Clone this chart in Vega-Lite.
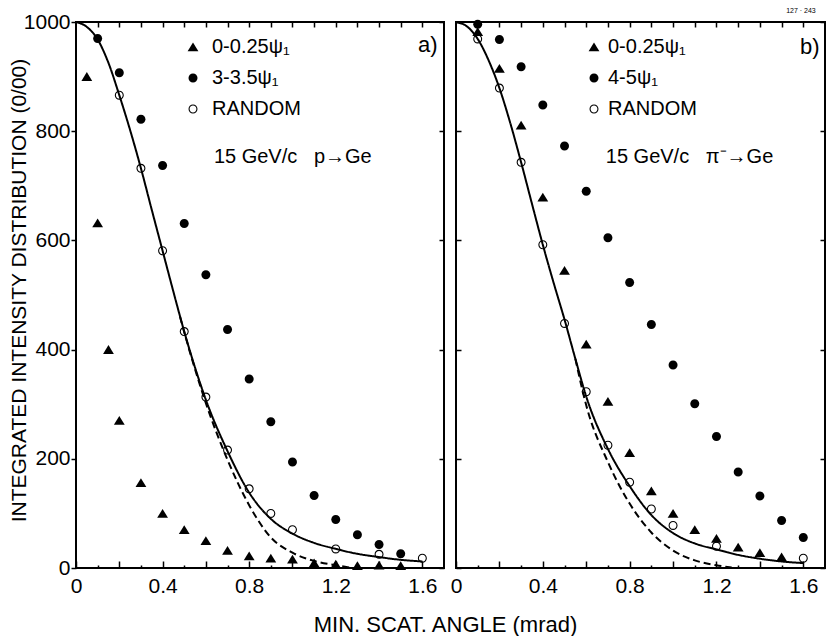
{
  "$schema": "https://vega.github.io/schema/vega-lite/v6.json",
  "background": "white",
  "padding": {"left": 7, "top": 6, "right": 0, "bottom": 0},
  "config": {
    "view": {"stroke": "black", "strokeWidth": 2},
    "axis": {"domain": false, "grid": false, "labelFont": "Liberation Sans, Arial, sans-serif", "labelFontSize": 21, "labelColor": "black", "tickColor": "black", "tickWidth": 1.5, "titleFont": "Liberation Sans, Arial, sans-serif", "titleFontSize": 22, "titleFontWeight": "normal", "titleColor": "black", "labelOverlap": false, "labelFlush": false},
    "legend": {"labelFont": "Liberation Sans, Arial, sans-serif", "labelFontSize": 20, "labelColor": "black", "symbolSize": 81, "rowPadding": 11, "padding": 0, "labelLimit": 400},
    "text": {"font": "Liberation Sans, Arial, sans-serif", "fontSize": 20, "color": "black"}
  },
  "datasets": {
    "curvesA": [
      {"angle": 0, "value": 1000, "curve": "solid"}, {"angle": 0.05, "value": 991, "curve": "solid"}, {"angle": 0.1, "value": 968, "curve": "solid"}, {"angle": 0.15, "value": 925, "curve": "solid"}, {"angle": 0.2, "value": 866, "curve": "solid"}, {"angle": 0.25, "value": 802, "curve": "solid"}, {"angle": 0.3, "value": 732, "curve": "solid"}, {"angle": 0.35, "value": 656, "curve": "solid"}, {"angle": 0.4, "value": 581, "curve": "solid"}, {"angle": 0.45, "value": 506, "curve": "solid"}, {"angle": 0.5, "value": 433, "curve": "solid"}, {"angle": 0.55, "value": 367, "curve": "solid"}, {"angle": 0.6, "value": 308, "curve": "solid"}, {"angle": 0.7, "value": 214, "curve": "solid"}, {"angle": 0.8, "value": 138, "curve": "solid"}, {"angle": 0.9, "value": 90, "curve": "solid"}, {"angle": 1.0, "value": 63, "curve": "solid"}, {"angle": 1.1, "value": 46, "curve": "solid"}, {"angle": 1.2, "value": 35, "curve": "solid"}, {"angle": 1.3, "value": 26, "curve": "solid"}, {"angle": 1.4, "value": 20, "curve": "solid"}, {"angle": 1.5, "value": 15, "curve": "solid"}, {"angle": 1.6, "value": 12, "curve": "solid"},
      {"angle": 0.48, "value": 461, "curve": "dashed"}, {"angle": 0.5, "value": 432, "curve": "dashed"}, {"angle": 0.55, "value": 364, "curve": "dashed"}, {"angle": 0.6, "value": 302, "curve": "dashed"}, {"angle": 0.7, "value": 198, "curve": "dashed"}, {"angle": 0.8, "value": 115, "curve": "dashed"}, {"angle": 0.9, "value": 56, "curve": "dashed"}, {"angle": 1.0, "value": 28, "curve": "dashed"}, {"angle": 1.1, "value": 13, "curve": "dashed"}, {"angle": 1.2, "value": 5, "curve": "dashed"}, {"angle": 1.28, "value": 0, "curve": "dashed"}
    ],
    "curvesB": [
      {"angle": 0, "value": 1000, "curve": "solid"}, {"angle": 0.05, "value": 992, "curve": "solid"}, {"angle": 0.1, "value": 969, "curve": "solid"}, {"angle": 0.15, "value": 930, "curve": "solid"}, {"angle": 0.2, "value": 879, "curve": "solid"}, {"angle": 0.25, "value": 815, "curve": "solid"}, {"angle": 0.3, "value": 743, "curve": "solid"}, {"angle": 0.35, "value": 667, "curve": "solid"}, {"angle": 0.4, "value": 592, "curve": "solid"}, {"angle": 0.45, "value": 522, "curve": "solid"}, {"angle": 0.5, "value": 455, "curve": "solid"}, {"angle": 0.55, "value": 383, "curve": "solid"}, {"angle": 0.6, "value": 314, "curve": "solid"}, {"angle": 0.7, "value": 218, "curve": "solid"}, {"angle": 0.8, "value": 150, "curve": "solid"}, {"angle": 0.9, "value": 97, "curve": "solid"}, {"angle": 1.0, "value": 64, "curve": "solid"}, {"angle": 1.1, "value": 45, "curve": "solid"}, {"angle": 1.2, "value": 34, "curve": "solid"}, {"angle": 1.3, "value": 24, "curve": "solid"}, {"angle": 1.4, "value": 17, "curve": "solid"}, {"angle": 1.5, "value": 12, "curve": "solid"}, {"angle": 1.6, "value": 9, "curve": "solid"},
      {"angle": 0.55, "value": 383, "curve": "dashed"}, {"angle": 0.6, "value": 298, "curve": "dashed"}, {"angle": 0.7, "value": 194, "curve": "dashed"}, {"angle": 0.8, "value": 118, "curve": "dashed"}, {"angle": 0.9, "value": 65, "curve": "dashed"}, {"angle": 1.0, "value": 32, "curve": "dashed"}, {"angle": 1.1, "value": 14, "curve": "dashed"}, {"angle": 1.2, "value": 5, "curve": "dashed"}, {"angle": 1.27, "value": 1, "curve": "dashed"}
    ],
    "pointsA": [
      {"angle": 0.05, "value": 900, "series": "0-0.25ψ₁"}, {"angle": 0.1, "value": 632, "series": "0-0.25ψ₁"}, {"angle": 0.15, "value": 400, "series": "0-0.25ψ₁"}, {"angle": 0.2, "value": 270, "series": "0-0.25ψ₁"}, {"angle": 0.3, "value": 156, "series": "0-0.25ψ₁"}, {"angle": 0.4, "value": 100, "series": "0-0.25ψ₁"}, {"angle": 0.5, "value": 70, "series": "0-0.25ψ₁"}, {"angle": 0.6, "value": 50, "series": "0-0.25ψ₁"}, {"angle": 0.7, "value": 32, "series": "0-0.25ψ₁"}, {"angle": 0.8, "value": 22, "series": "0-0.25ψ₁"}, {"angle": 0.9, "value": 18, "series": "0-0.25ψ₁"}, {"angle": 1.0, "value": 16, "series": "0-0.25ψ₁"}, {"angle": 1.1, "value": 9, "series": "0-0.25ψ₁"}, {"angle": 1.2, "value": 7, "series": "0-0.25ψ₁"}, {"angle": 1.3, "value": 4, "series": "0-0.25ψ₁"}, {"angle": 1.4, "value": 5, "series": "0-0.25ψ₁"}, {"angle": 1.5, "value": 4, "series": "0-0.25ψ₁"},
      {"angle": 0.1, "value": 970, "series": "3-3.5ψ₁"}, {"angle": 0.2, "value": 907, "series": "3-3.5ψ₁"}, {"angle": 0.3, "value": 822, "series": "3-3.5ψ₁"}, {"angle": 0.4, "value": 737, "series": "3-3.5ψ₁"}, {"angle": 0.5, "value": 631, "series": "3-3.5ψ₁"}, {"angle": 0.6, "value": 537, "series": "3-3.5ψ₁"}, {"angle": 0.7, "value": 437, "series": "3-3.5ψ₁"}, {"angle": 0.8, "value": 346, "series": "3-3.5ψ₁"}, {"angle": 0.9, "value": 268, "series": "3-3.5ψ₁"}, {"angle": 1.0, "value": 194, "series": "3-3.5ψ₁"}, {"angle": 1.1, "value": 133, "series": "3-3.5ψ₁"}, {"angle": 1.2, "value": 89, "series": "3-3.5ψ₁"}, {"angle": 1.3, "value": 61, "series": "3-3.5ψ₁"}, {"angle": 1.4, "value": 43, "series": "3-3.5ψ₁"}, {"angle": 1.5, "value": 26, "series": "3-3.5ψ₁"},
      {"angle": 0.2, "value": 866, "series": "RANDOM"}, {"angle": 0.3, "value": 732, "series": "RANDOM"}, {"angle": 0.4, "value": 581, "series": "RANDOM"}, {"angle": 0.5, "value": 433, "series": "RANDOM"}, {"angle": 0.6, "value": 313, "series": "RANDOM"}, {"angle": 0.7, "value": 216, "series": "RANDOM"}, {"angle": 0.8, "value": 145, "series": "RANDOM"}, {"angle": 0.9, "value": 100, "series": "RANDOM"}, {"angle": 1.0, "value": 70, "series": "RANDOM"}, {"angle": 1.2, "value": 35, "series": "RANDOM"}, {"angle": 1.4, "value": 25, "series": "RANDOM"}, {"angle": 1.6, "value": 18, "series": "RANDOM"}
    ],
    "pointsB": [
      {"angle": 0.1, "value": 982, "series": "0-0.25ψ₁"}, {"angle": 0.2, "value": 915, "series": "0-0.25ψ₁"}, {"angle": 0.3, "value": 811, "series": "0-0.25ψ₁"}, {"angle": 0.4, "value": 679, "series": "0-0.25ψ₁"}, {"angle": 0.5, "value": 545, "series": "0-0.25ψ₁"}, {"angle": 0.6, "value": 410, "series": "0-0.25ψ₁"}, {"angle": 0.7, "value": 305, "series": "0-0.25ψ₁"}, {"angle": 0.8, "value": 211, "series": "0-0.25ψ₁"}, {"angle": 0.9, "value": 141, "series": "0-0.25ψ₁"}, {"angle": 1.0, "value": 100, "series": "0-0.25ψ₁"}, {"angle": 1.1, "value": 70, "series": "0-0.25ψ₁"}, {"angle": 1.2, "value": 54, "series": "0-0.25ψ₁"}, {"angle": 1.3, "value": 38, "series": "0-0.25ψ₁"}, {"angle": 1.4, "value": 28, "series": "0-0.25ψ₁"}, {"angle": 1.5, "value": 20, "series": "0-0.25ψ₁"},
      {"angle": 0.1, "value": 996, "series": "4-5ψ₁"}, {"angle": 0.2, "value": 968, "series": "4-5ψ₁"}, {"angle": 0.3, "value": 918, "series": "4-5ψ₁"}, {"angle": 0.4, "value": 848, "series": "4-5ψ₁"}, {"angle": 0.5, "value": 773, "series": "4-5ψ₁"}, {"angle": 0.6, "value": 690, "series": "4-5ψ₁"}, {"angle": 0.7, "value": 605, "series": "4-5ψ₁"}, {"angle": 0.8, "value": 523, "series": "4-5ψ₁"}, {"angle": 0.9, "value": 446, "series": "4-5ψ₁"}, {"angle": 1.0, "value": 372, "series": "4-5ψ₁"}, {"angle": 1.1, "value": 301, "series": "4-5ψ₁"}, {"angle": 1.2, "value": 241, "series": "4-5ψ₁"}, {"angle": 1.3, "value": 176, "series": "4-5ψ₁"}, {"angle": 1.4, "value": 132, "series": "4-5ψ₁"}, {"angle": 1.5, "value": 87, "series": "4-5ψ₁"}, {"angle": 1.6, "value": 56, "series": "4-5ψ₁"},
      {"angle": 0.1, "value": 969, "series": "RANDOM"}, {"angle": 0.2, "value": 879, "series": "RANDOM"}, {"angle": 0.3, "value": 743, "series": "RANDOM"}, {"angle": 0.4, "value": 592, "series": "RANDOM"}, {"angle": 0.5, "value": 448, "series": "RANDOM"}, {"angle": 0.6, "value": 323, "series": "RANDOM"}, {"angle": 0.7, "value": 225, "series": "RANDOM"}, {"angle": 0.8, "value": 157, "series": "RANDOM"}, {"angle": 0.9, "value": 108, "series": "RANDOM"}, {"angle": 1.0, "value": 78, "series": "RANDOM"}, {"angle": 1.2, "value": 40, "series": "RANDOM"}, {"angle": 1.6, "value": 18, "series": "RANDOM"}
    ]
  },
  "bounds": "flush",
  "spacing": 12,
  "resolve": {"scale": {"x": "independent", "y": "independent", "shape": "independent", "strokeDash": "independent"}, "legend": {"shape": "independent"}},
  "hconcat": [
    {
      "width": 368,
      "height": 546,
      "resolve": {"axis": {"x": "independent", "y": "independent"}},
      "layer": [
        {
          "data": {"name": "curvesA"},
          "mark": {"type": "line", "interpolate": "monotone", "color": "black", "strokeWidth": 2},
          "encoding": {
            "x": {"field": "angle", "type": "quantitative", "scale": {"domain": [0, 1.7], "nice": false, "zero": true},
                  "axis": {"orient": "bottom", "values": [0, 0.2, 0.4, 0.6, 0.8, 1.0, 1.2, 1.4, 1.6], "tickSize": -7, "labelPadding": 14, "format": "~g", "labelExpr": "round(datum.value*10) % 4 == 0 ? datum.label : ''", "title": "MIN. SCAT. ANGLE (mrad)", "titleX": 369, "titleY": 56, "titleBaseline": "middle", "titleAlign": "center"}},
            "y": {"field": "value", "type": "quantitative", "scale": {"domain": [0, 1000], "nice": false},
                  "axis": {"orient": "left", "values": [0, 200, 400, 600, 800, 1000], "format": "d", "tickSize": 5, "labelPadding": 1, "title": "INTEGRATED INTENSITY DISTRIBUTION (0/00)", "titleFontSize": 21, "titleX": -57, "titleY": 268, "titleAngle": -90, "titleBaseline": "middle", "titleAlign": "center"}},
            "strokeDash": {"field": "curve", "type": "nominal", "scale": {"domain": ["solid", "dashed"], "range": [[1, 0], [7, 4]]}, "legend": null}
          }
        },
        {
          "data": {"name": "pointsA"},
          "mark": {"type": "point", "filled": true, "color": "black", "strokeWidth": 0, "size": 81, "opacity": 1},
          "encoding": {
            "x": {"field": "angle", "type": "quantitative", "scale": {"domain": [0, 1.7], "nice": false},
                  "axis": {"orient": "bottom", "values": [0.1, 0.3, 0.5, 0.7, 0.9, 1.1, 1.3, 1.5], "tickSize": -3, "labels": false, "title": null}},
            "y": {"field": "value", "type": "quantitative", "scale": {"domain": [0, 1000], "nice": false},
                  "axis": {"orient": "right", "values": [0, 200, 400, 600, 800, 1000], "tickSize": -5, "labels": false, "title": null}},
            "shape": {"field": "series", "type": "nominal", "scale": {"domain": ["0-0.25ψ₁", "3-3.5ψ₁", "RANDOM"], "range": ["M0,-1L1.2,0.95L-1.2,0.95Z", "M-1,0A1,1 0 1,0 1,0A1,1 0 1,0 -1,0Z", "M-1,0A1,1 0 1,0 1,0A1,1 0 1,0 -1,0ZM-0.76,0A0.76,0.76 0 1,1 0.76,0A0.76,0.76 0 1,1 -0.76,0Z"]},
                      "legend": {"orient": "none", "legendX": 107, "legendY": 15, "title": null, "labelOffset": 9, "symbolFillColor": "black", "symbolStrokeWidth": 0}}
          }
        },
        {
          "data": {"values": [{}]},
          "mark": {"type": "text", "text": "15 GeV/c\u00a0\u00a0\u00a0p→Ge", "align": "left", "baseline": "middle"},
          "encoding": {
            "x": {"datum": 0.637, "type": "quantitative", "scale": {"domain": [0, 1.7], "nice": false},
                  "axis": {"orient": "top", "values": [0.1, 0.2, 0.3, 0.4, 0.5, 0.6, 0.7, 0.8, 0.9, 1.0, 1.1, 1.2, 1.3, 1.4, 1.5, 1.6], "tickSize": -5, "labels": false, "title": null}},
            "y": {"datum": 752, "type": "quantitative", "scale": {"domain": [0, 1000], "nice": false}, "axis": null}
          }
        },
        {
          "data": {"values": [{}]},
          "mark": {"type": "text", "text": "a)", "align": "right", "baseline": "middle", "fontSize": 22},
          "encoding": {
            "x": {"datum": 1.67, "type": "quantitative", "axis": null},
            "y": {"datum": 958, "type": "quantitative", "axis": null}
          }
        }
      ]
    },
    {
      "width": 369,
      "height": 546,
      "title": {"text": "127 · 243", "anchor": "end", "fontSize": 7, "fontWeight": "normal", "font": "Liberation Sans, Arial, sans-serif", "color": "black", "offset": 4, "dx": -10},
      "resolve": {"axis": {"x": "independent", "y": "independent"}},
      "layer": [
        {
          "data": {"name": "curvesB"},
          "mark": {"type": "line", "interpolate": "monotone", "color": "black", "strokeWidth": 2},
          "encoding": {
            "x": {"field": "angle", "type": "quantitative", "scale": {"domain": [0, 1.7], "nice": false, "zero": true},
                  "axis": {"orient": "bottom", "values": [0, 0.2, 0.4, 0.6, 0.8, 1.0, 1.2, 1.4, 1.6], "tickSize": -7, "labelPadding": 14, "format": "~g", "labelExpr": "round(datum.value*10) % 4 == 0 ? datum.label : ''", "title": null}},
            "y": {"field": "value", "type": "quantitative", "scale": {"domain": [0, 1000], "nice": false},
                  "axis": {"orient": "left", "values": [0, 200, 400, 600, 800, 1000], "tickSize": -5, "labels": false, "title": null}},
            "strokeDash": {"field": "curve", "type": "nominal", "scale": {"domain": ["solid", "dashed"], "range": [[1, 0], [7, 4]]}, "legend": null}
          }
        },
        {
          "data": {"name": "pointsB"},
          "mark": {"type": "point", "filled": true, "color": "black", "strokeWidth": 0, "size": 81, "opacity": 1},
          "encoding": {
            "x": {"field": "angle", "type": "quantitative", "scale": {"domain": [0, 1.7], "nice": false},
                  "axis": {"orient": "bottom", "values": [0.1, 0.3, 0.5, 0.7, 0.9, 1.1, 1.3, 1.5], "tickSize": -3, "labels": false, "title": null}},
            "y": {"field": "value", "type": "quantitative", "scale": {"domain": [0, 1000], "nice": false},
                  "axis": {"orient": "right", "values": [0, 200, 400, 600, 800, 1000], "tickSize": -5, "labels": false, "title": null}},
            "shape": {"field": "series", "type": "nominal", "scale": {"domain": ["0-0.25ψ₁", "4-5ψ₁", "RANDOM"], "range": ["M0,-1L1.2,0.95L-1.2,0.95Z", "M-1,0A1,1 0 1,0 1,0A1,1 0 1,0 -1,0Z", "M-1,0A1,1 0 1,0 1,0A1,1 0 1,0 -1,0ZM-0.76,0A0.76,0.76 0 1,1 0.76,0A0.76,0.76 0 1,1 -0.76,0Z"]},
                      "legend": {"orient": "none", "legendX": 128, "legendY": 15, "title": null, "labelOffset": 4, "symbolFillColor": "black", "symbolStrokeWidth": 0}}
          }
        },
        {
          "data": {"values": [{}]},
          "mark": {"type": "text", "text": "15 GeV/c\u00a0\u00a0\u00a0π⁻→Ge", "align": "left", "baseline": "middle"},
          "encoding": {
            "x": {"datum": 0.69, "type": "quantitative", "scale": {"domain": [0, 1.7], "nice": false},
                  "axis": {"orient": "top", "values": [0.1, 0.2, 0.3, 0.4, 0.5, 0.6, 0.7, 0.8, 0.9, 1.0, 1.1, 1.2, 1.3, 1.4, 1.5, 1.6], "tickSize": -5, "labels": false, "title": null}},
            "y": {"datum": 752, "type": "quantitative", "scale": {"domain": [0, 1000], "nice": false}, "axis": null}
          }
        },
        {
          "data": {"values": [{}]},
          "mark": {"type": "text", "text": "b)", "align": "right", "baseline": "middle", "fontSize": 22},
          "encoding": {
            "x": {"datum": 1.675, "type": "quantitative", "axis": null},
            "y": {"datum": 954, "type": "quantitative", "axis": null}
          }
        }
      ]
    }
  ]
}
